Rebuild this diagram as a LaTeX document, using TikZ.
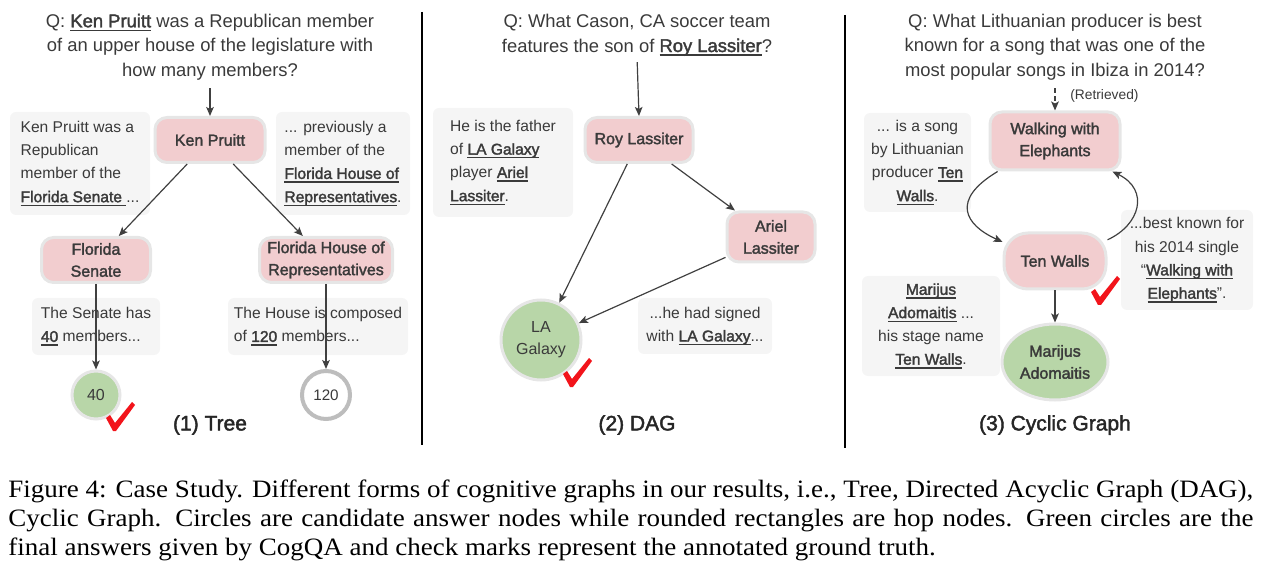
\documentclass[tikz,border=0pt]{standalone}
\usepackage{fontspec}
\setmainfont{Liberation Sans}
\newfontfamily\medfont[FakeBold=2]{Liberation Sans}
\newfontfamily\capfont[FakeStretch=1.08]{Liberation Serif}
\usetikzlibrary{arrows.meta,shapes.geometric}
\definecolor{txt}{HTML}{3A3A3A}
\definecolor{hopfill}{HTML}{F2CDCF}
\definecolor{ansfill}{HTML}{B8D6A8}
\definecolor{rim}{HTML}{E6E6E6}
\definecolor{candrim}{HTML}{BDBDBD}
\definecolor{ctxfill}{HTML}{F5F5F5}
\definecolor{arrowc}{HTML}{404040}
\definecolor{tickred}{HTML}{F2141B}
\newcommand{\ulw}[1]{{\medfont\setbox0\hbox{#1}\rlap{\rule[-1.9pt]{\wd0}{0.7pt}}\box0}}
\begin{document}
\begin{tikzpicture}[x=0.5pt,y=-0.5pt,
	hop/.style={draw=rim, line width=1.5pt, fill=hopfill, rounded corners=6pt, text=txt, align=center, inner sep=0pt, font=\medfont\fontsize{8}{11}\selectfont},
	ans/.style={circle, draw=rim, line width=1.5pt, fill=ansfill, text=txt, align=center, inner sep=0pt, font=\fontsize{8}{11}\selectfont},
	cand/.style={circle, draw=candrim, line width=2pt, fill=white, text=txt, inner sep=0pt, font=\fontsize{7.6}{11}\selectfont},
	ctx/.style={fill=ctxfill, rounded corners=3pt, text=txt, inner sep=0pt, font=\fontsize{7.8}{11.65}\selectfont},
	ques/.style={text=txt, align=center, inner sep=0pt, font=\fontsize{9.2}{12.25}\selectfont},
	edge/.style={-{Stealth[length=4.5pt,width=3.8pt,inset=1pt]}, draw=arrowc, line width=0.6pt},
	title/.style={text=black!85, font=\medfont\fontsize{10.5}{12}\selectfont},
	okmark/.pic={\fill[tickred] (-14,1) -- (-10,-2) -- (-5,6) -- (12,-15) -- (15,-12) -- (-4,14) -- (-7,14) -- cycle;}
	]
	\useasboundingbox (0,0) rectangle (1262,566);
	% separators
	\foreach \x/\y in {422/12,845/15}
	\draw[line width=1pt] (\x,\y) -- (\x,\y+433);
	
	% (1) tree
	\node[ques] (q1) at (210,47) {Q: \ulw{Ken Pruitt} was a Republican member\\of an upper house of the legislature with\\how many members?};
	\node[ctx, align=left, minimum width=70pt, minimum height=51.5pt] (c1) at (80,163.5) {Ken Pruitt was a\\Republican\\member of the\\\ulw{Florida Senate }...};
	\node[ctx, align=left, minimum width=67pt, minimum height=51.5pt] (c2) at (343,163.5) {... previously a\\member of the\\\ulw{Florida House of}\\\ulw{Representatives}.};
	\node[ctx, align=left, minimum width=64pt, minimum height=28.5pt] (c3) at (96,326.5) {The Senate has\\\ulw{40} members...};
	\node[ctx, align=left, minimum width=90pt, minimum height=28.5pt] (c4) at (318,326.5) {The House is composed\\of \ulw{120} members...};
	\node[hop, minimum width=55pt, minimum height=22.5pt] (kp) at (210,140) {Ken Pruitt};
	\node[hop, minimum width=54.5pt, minimum height=22.5pt] (fs) at (96,260) {Florida\\Senate};
	\node[hop, minimum width=66.5pt, minimum height=22.5pt] (fh) at (326,260) {Florida House of\\Representatives};
	\node[ans, minimum size=24pt] (a40) at (96,395) {40};
	\node[cand, minimum size=24pt] (a120) at (326,395) {120};
	\draw[edge, shorten <=4pt] (q1.south) -- (kp.north);
	\draw[edge] (kp) -- (fs);
	\draw[edge] (kp) -- (fh);
	\draw[edge] (fs) -- (a40);
	\draw[edge] (fh) -- (a120);
	\pic at (120,417) {okmark};
	\node[title] (t1) at (210,425) {(1) Tree};
	
	% (2) dag
	\node[ques] (q2) at (637,35) {Q: What Cason, CA soccer team\\features the son of \ulw{Roy Lassiter}?};
	\node[ctx, align=left, minimum width=70pt, minimum height=54.5pt] (c5) at (503,162.5) {He is the father\\of \ulw{LA Galaxy}\\player \ulw{Ariel}\\\ulw{Lassiter}.};
	\node[ctx, align=center, minimum width=67pt, minimum height=28pt] (c6) at (705,326) {...he had signed\\with \ulw{LA Galaxy}...};
	\node[hop, minimum width=54pt, minimum height=22.5pt] (rl) at (639,140) {Roy Lassiter};
	\node[hop, minimum width=44pt, minimum height=25pt] (al) at (771,237) {Ariel\\Lassiter};
	\node[ans, minimum size=40pt] (lag) at (541,340) {LA\\Galaxy};
	\draw[edge, shorten <=3pt] (q2.south) -- (rl.north);
	\draw[edge] (rl) -- (lag);
	\draw[edge] (rl) -- (al);
	\draw[edge] (al) -- (lag);
	\pic at (577,373) {okmark};
	\node[title] (t2) at (637,425) {(2) DAG};
	
	% (3) cyclic graph
	\node[ques] (q3) at (1055,47) {Q: What Lithuanian producer is best\\known for a song that was one of the\\most popular songs in Ibiza in 2014?};
	\node[ctx, align=center, minimum width=53.5pt, minimum height=49.5pt] (c7) at (917.5,162.5) {... is a song\\by Lithuanian\\producer \ulw{Ten}\\\ulw{Walls}.};
	\node[ctx, align=center, minimum width=66pt, minimum height=50pt] (c8) at (1187,260) {...best known for\\his 2014 single\\“\ulw{Walking with}\\\ulw{Elephants}”.};
	\node[ctx, align=center, minimum width=69pt, minimum height=50pt] (c9) at (931,326) {\ulw{Marijus}\\\ulw{Adomaitis} ...\\his stage name\\\ulw{Ten Walls}.};
	\node[hop, minimum width=65pt, minimum height=29pt] (we) at (1055,141) {Walking with\\Elephants};
	\node[hop, rounded corners=12pt, minimum width=51pt, minimum height=28pt] (tw) at (1055,261) {Ten Walls};
	\node[ans, ellipse, font=\medfont\fontsize{8}{11}\selectfont, minimum width=53pt, minimum height=38pt] (ma) at (1055,362) {Marijus\\Adomaitis};
	\draw[edge, dash pattern=on 2.5pt off 1.5pt, shorten <=4pt] (q3.south) -- node[right=4pt, text=txt, font=\fontsize{6.9}{8}\selectfont] (ret) {(Retrieved)} (we.north);
	\draw[edge] (we.208) .. controls (950,200) and (965,225) .. (tw.160);
	\draw[edge] (tw.22) .. controls (1140,225) and (1150,190) .. (we.-28);
	\draw[edge] (tw) -- (ma);
	\pic at (1105,291) {okmark};
	\node[title] (t3) at (1055,425) {(3) Cyclic Graph};
	
	% caption
	\node[anchor=north west, inner sep=0pt, text width=622.5pt, align=justify, font=\capfont\fontsize{12.5}{14.5}\selectfont] (cap) at (8,479) {Figure 4: Case Study. Different forms of cognitive graphs in our results, i.e., Tree, Directed Acyclic Graph (DAG),\linebreak Cyclic Graph. Circles are candidate answer nodes while rounded rectangles are hop nodes. Green circles are the\linebreak final answers given by CogQA and check marks represent the annotated ground truth.};
\end{tikzpicture}
\end{document}
